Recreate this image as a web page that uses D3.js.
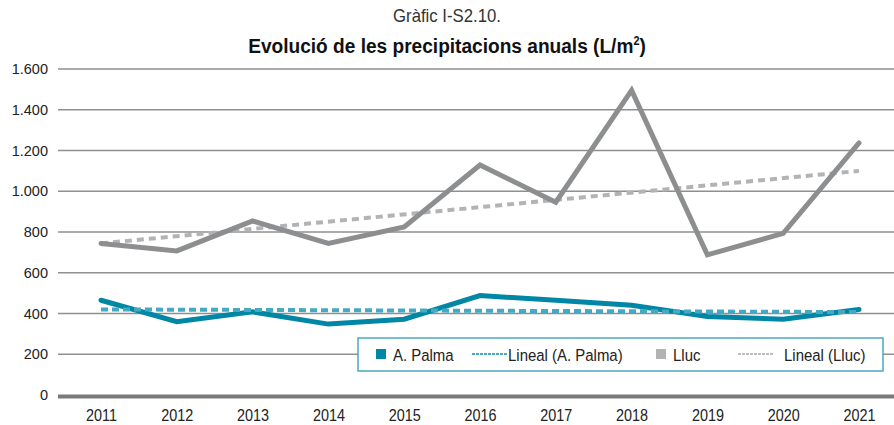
<!DOCTYPE html>
<html>
<head>
<meta charset="utf-8">
<style>
body { margin: 0; background: #fff; }
text { font-family: "Liberation Sans Narrow", "Liberation Sans", sans-serif; fill: #222; }
</style>
<script src="https://d3js.org/d3.v7.min.js"></script>
</head>
<body>
<svg id="chart" width="894" height="425"></svg>
<script>
// data
var years = ["2011", "2012", "2013", "2014", "2015", "2016", "2017", "2018", "2019", "2020", "2021"];
var palma = [465, 360, 408, 348, 372, 488, 465, 440, 385, 372, 420];
var lluc = [744, 707, 854, 744, 825, 1129, 946, 1495, 688, 793, 1237];
// trend lines (start 2011, end 2021)
var trendPalma = [420, 407];
var trendLluc = [744, 1100];
var yTicks = [0, 200, 400, 600, 800, 1000, 1200, 1400, 1600];

var svg = d3.select("#chart");
var plotLeft = 58, plotRight = 894, plotTop = 69, plotBottom = 395;

var x = d3.scalePoint().domain(years).range([101, 859]);
var y = d3.scaleLinear().domain([0, 1600]).range([plotBottom, plotTop]);

var fmt = function(d) { return d3.format(",")(d).replace(/,/g, "."); };

// narrow text: squeeze horizontally around anchor point
function narrow(sel, k) {
  sel.each(function() {
    var t = d3.select(this);
    var tx = +t.attr("x") || 0, ty = +t.attr("y") || 0;
    t.attr("transform", "translate(" + tx + "," + ty + ") scale(" + k + ",1) translate(" + (-tx) + "," + (-ty) + ")");
  });
}

// titles
svg.append("text").attr("x", 447).attr("y", 22).attr("text-anchor", "middle")
  .style("font-size", "18px").style("fill", "#333").text("Gràfic I-S2.10.").call(narrow, 0.93);
svg.append("text").attr("x", 447).attr("y", 53).attr("text-anchor", "middle")
  .style("font-size", "21px").style("font-weight", "bold").style("fill", "#111")
  .html("Evolució de les precipitacions anuals (L/m<tspan dy='-8' style='font-size:12px'>2</tspan><tspan dy='8'>)</tspan>")
  .call(narrow, 0.91);

// gridlines
var grid = svg.append("g");
grid.selectAll("line").data(yTicks.filter(function(d) { return d > 0; })).enter().append("line")
  .attr("x1", plotLeft).attr("x2", plotRight)
  .attr("y1", function(d) { return y(d); }).attr("y2", function(d) { return y(d); })
  .attr("stroke", "#8f8f8f").attr("stroke-width", 1.3);

// y axis labels
var yAxis = d3.axisLeft(y).tickValues(yTicks).tickFormat(fmt).tickSize(0).tickPadding(10);
var gy = svg.append("g").attr("transform", "translate(" + plotLeft + ",0)").call(yAxis);
gy.select(".domain").remove();
gy.selectAll("text").style("font-family", "'Liberation Sans', Arial, sans-serif")
  .style("font-size", "14.5px").style("fill", "#222");

// baseline
svg.append("line").attr("x1", plotLeft).attr("x2", plotRight)
  .attr("y1", y(0) + 1.5).attr("y2", y(0) + 1.5)
  .attr("stroke", "#7a7a7a").attr("stroke-width", 4);

// x axis labels
var xAxis = d3.axisBottom(x).tickSize(0).tickPadding(13);
var gx = svg.append("g").attr("transform", "translate(0," + (y(0) + 2) + ")").call(xAxis);
gx.select(".domain").remove();
gx.selectAll("text").style("font-size", "16px").style("fill", "#222")
  .attr("transform", "scale(0.9,1)");

var line = d3.line()
  .x(function(d, i) { return x(years[i]); })
  .y(function(d) { return y(d); });

var trend = d3.line()
  .x(function(d, i) { return x(i === 0 ? years[0] : years[years.length - 1]); })
  .y(function(d) { return y(d); });

// Lluc
svg.append("path").attr("d", trend(trendLluc)).attr("fill", "none")
  .attr("stroke", "#b3b3b6").attr("stroke-width", 4).attr("stroke-dasharray", "7,5");
svg.append("path").attr("d", line(lluc)).attr("fill", "none")
  .attr("stroke", "#8c8e8f").attr("stroke-width", 5).attr("stroke-linecap", "round");

// Palma
svg.append("path").attr("d", line(palma)).attr("fill", "none")
  .attr("stroke", "#0087a5").attr("stroke-width", 5).attr("stroke-linecap", "round");
svg.append("path").attr("d", trend(trendPalma)).attr("fill", "none")
  .attr("stroke", "#45a9c2").attr("stroke-width", 4).attr("stroke-dasharray", "7,4");

// legend
var lg = svg.append("g");
lg.append("rect").attr("x", 358).attr("y", 338).attr("width", 525).attr("height", 33)
  .attr("fill", "#fff").attr("stroke", "#4aa9c1").attr("stroke-width", 1.5);
var items = [
  { label: "A. Palma", type: "box", color: "#0087a5", x: 376, tx: 393 },
  { label: "Lineal (A. Palma)", type: "dash", color: "#45a9c2", x: 472, tx: 508 },
  { label: "Lluc", type: "box", color: "#b3b3b6", x: 656, tx: 673 },
  { label: "Lineal (Lluc)", type: "dash", color: "#bdbdc0", x: 738, tx: 784 }
];
items.forEach(function(it) {
  if (it.type === "box") {
    lg.append("rect").attr("x", it.x).attr("y", 349).attr("width", 10).attr("height", 10).attr("fill", it.color);
  } else {
    lg.append("line").attr("x1", it.x).attr("x2", it.x + 35).attr("y1", 354).attr("y2", 354)
      .attr("stroke", it.color).attr("stroke-width", 2).attr("stroke-dasharray", "3,1");
  }
  lg.append("text").attr("x", it.tx).attr("y", 361).style("font-size", "17px").style("fill", "#222")
    .text(it.label).call(narrow, 0.88);
});
</script>
</body>
</html>
